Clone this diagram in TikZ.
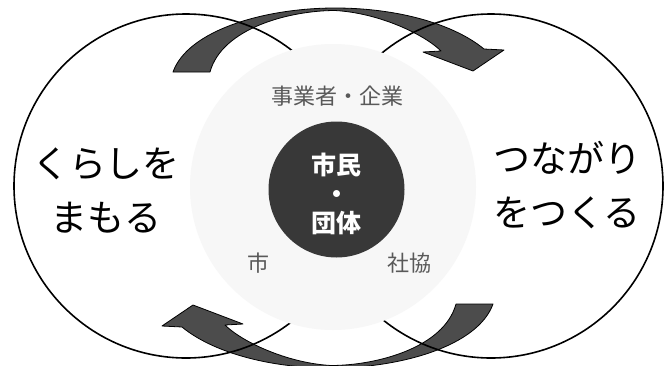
\documentclass[tikz,border=0pt]{standalone}
\usepackage{fontspec}
\newfontfamily\jpfont{Noto Sans CJK JP}
\tikzset{
  ring/.style={draw=black, line width=1.6pt},
  swoosh/.style={fill=black!70, draw=black, line width=0.8pt, line join=round},
  core/.style={circle, fill=black!78, minimum size=136pt, inner sep=0pt},
  coretext/.style={text=white, align=center, font=\jpfont\bfseries\fontsize{25}{29}\selectfont},
  member/.style={text=black!65, font=\jpfont\fontsize{22}{26}\selectfont},
  bigtext/.style={align=center, font=\jpfont\fontsize{37}{54}\selectfont}
}
\begin{document}
\begin{tikzpicture}[x=1pt,y=-1pt]

    \useasboundingbox[fill=white] (0,0) rectangle (665,365);

    % the two curved arrows (circle lines run over them)
    \foreach \ang in {0,180}
        \filldraw[swoosh, rotate around={\ang:(333,188)}]
            (173,72) .. controls (188,30) and (265,8) .. (335,8)
            .. controls (400,8) and (455,25) .. (484,49)
            -- (504,50) -- (473,71) -- (423,52) -- (441,51)
            .. controls (425,35) and (380,13) .. (335,10.5)
            .. controls (290,10.5) and (222,28) .. (210,72) -- cycle;

    % the two big circles
    \draw[ring] (186,186) circle[radius=172pt];
    \draw[ring] (491,186) circle[radius=172pt];

    % light disc where they overlap
    \fill[black!3] (333,187) circle[radius=143pt];

    % dark centre
    \node[core] (core) at (336.5,189.5) {};
    \node[coretext] (coretext) at (336.5,194) {市民\\・\\団体};

    % members round the centre
    \node[member] (biz) at (337,96) {事業者・企業};
    \node[member] (city) at (258,263) {市};
    \node[member] (council) at (409,263) {社協};

    % the two aims
    \node[bigtext] (protect) at (106,190) {くらしを\\まもる};
    \node[bigtext] (connect) at (567,185) {つながり\\をつくる};

\end{tikzpicture}
\end{document}
